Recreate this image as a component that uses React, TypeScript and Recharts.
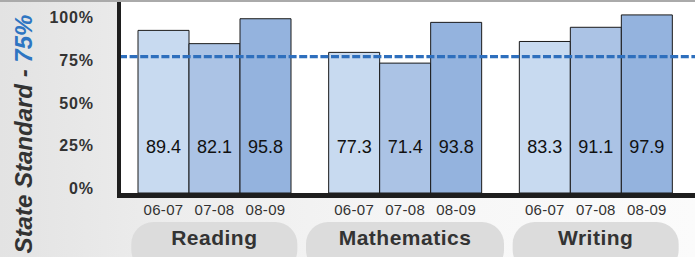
import React from 'react';
import { BarChart, Bar, XAxis, YAxis, ReferenceLine, LabelList, CartesianGrid } from 'recharts';

const categories = ['Reading', 'Mathematics', 'Writing'];
const years = ['06-07', '07-08', '08-09'];
const values0607 = [89.4, 77.3, 83.3];
const values0708 = [82.1, 71.4, 91.1];
const values0809 = [95.8, 93.8, 97.9];
const yTicks = [0, 25, 50, 75, 100];
const stateStandard = 75;

const data = categories.map((c, i) => ({
  subject: c,
  y0: values0607[i],
  y1: values0708[i],
  y2: values0809[i],
}));
const seriesKeys = ['y0', 'y1', 'y2'];
const colors = ['#c8daf0', '#abc3e5', '#94b3de'];
const FONT = '"Liberation Sans", Arial, Helvetica, sans-serif';
const PLOT_BOTTOM = 193;

const ValueLabel = (props: any) => {
  const x = Number(props.x);
  const y = Number(props.y);
  const w = Number(props.width);
  const h = Number(props.height);
  const bottom = y + h;
  return (
    <text x={x + w / 2} y={bottom - 40} textAnchor="middle" fontSize={18} fill="#111" fontFamily={FONT}>
      {props.value}
    </text>
  );
};

const makeYearLabel = (name: string) => (props: any) => {
  const x = Number(props.x);
  const y = Number(props.y);
  const w = Number(props.width);
  const h = Number(props.height);
  const bottom = y + h;
  return (
    <text x={x + w / 2} y={bottom + 22} textAnchor="middle" fontSize={15} letterSpacing={0.3} fill="#333" fontFamily={FONT}>
      {name}
    </text>
  );
};

const SubjectTick = (props: any) => {
  const { x, y, payload } = props;
  const label = String(payload.value);
  const w = 110 + label.length * 8;
  return (
    <g>
      <rect x={x - w / 2} y={y + 29} width={w} height={50} rx={22} ry={22} fill="#dcdcdc" />
      <text x={x} y={y + 52} textAnchor="middle" fontSize={21} fontWeight="bold" letterSpacing={0.5} fill="#333" fontFamily={FONT}>
        {label}
      </text>
    </g>
  );
};

const PercentTick = (props: any) => {
  const { y, payload } = props;
  const baseY = 194 + (Number(y) - PLOT_BOTTOM) * 0.938;
  return (
    <text x={94} y={baseY} textAnchor="end" fontSize={16} fontWeight="bold" letterSpacing={0.9} fill="#333" fontFamily={FONT}>
      {`${payload.value}%`}
    </text>
  );
};

const AxisBase = (props: any) => {
  const { x1, x2, y1 } = props;
  return <line x1={Number(x1) - 2} x2={Number(x2)} y1={Number(y1) + 2.5} y2={Number(y1) + 2.5} stroke="#1e1e1e" strokeWidth={5} />;
};

export default function App() {
  return (
    <div
      style={{
        position: 'absolute',
        left: 0,
        top: 0,
        width: 695,
        height: 257,
        overflow: 'hidden',
        background: 'linear-gradient(to right, #e3e3e3 0%, #ededed 25%, #f6f6f6 60%, #fbfbfb 100%)',
        fontFamily: FONT,
      }}
    >
      <BarChart
        width={695}
        height={257}
        data={data}
        margin={{ top: 2, right: 0, left: 0, bottom: 0 }}
        barCategoryGap={19}
        barGap={0}
      >
        <CartesianGrid fill="#ffffff" stroke="none" horizontal={false} vertical={false} />
        <XAxis
          dataKey="subject"
          height={64}
          axisLine={false}
          tickLine={false}
          tickSize={0}
          tickMargin={0}
          interval={0}
          padding={{ left: 0, right: 4 }}
          tick={<SubjectTick />}
        />
        <YAxis
          width={119}
          domain={[0, 105]}
          ticks={yTicks}
          tickLine={false}
          axisLine={{ stroke: '#1e1e1e', strokeWidth: 4 }}
          tick={<PercentTick />}
        />
        {seriesKeys.map((k, i) => (
          <Bar key={k} dataKey={k} name={years[i]} fill={colors[i]} stroke="#1a1a1a" strokeWidth={1} isAnimationActive={false}>
            <LabelList dataKey={k} content={<ValueLabel />} />
            <LabelList dataKey={k} content={makeYearLabel(years[i])} />
          </Bar>
        ))}
        <ReferenceLine y={0} shape={<AxisBase />} />
        <ReferenceLine y={stateStandard} stroke="#2e6fbd" strokeWidth={3.2} strokeDasharray="8 2.6" />
      </BarChart>
      <div style={{ position: 'absolute', left: 0, top: 0, width: 695, height: 2, background: '#aaaaaa' }} />
      <svg style={{ position: 'absolute', left: 0, top: 0 }} width={60} height={257}>
        <text
          transform="translate(32,134) rotate(-90)"
          textAnchor="middle"
          fontSize={24}
          fontWeight="bold"
          fontStyle="italic"
          fontFamily={FONT}
        >
          <tspan fill="#333">State Standard - </tspan>
          <tspan fill="#2e75c2">{`${stateStandard}%`}</tspan>
        </text>
      </svg>
    </div>
  );
}
